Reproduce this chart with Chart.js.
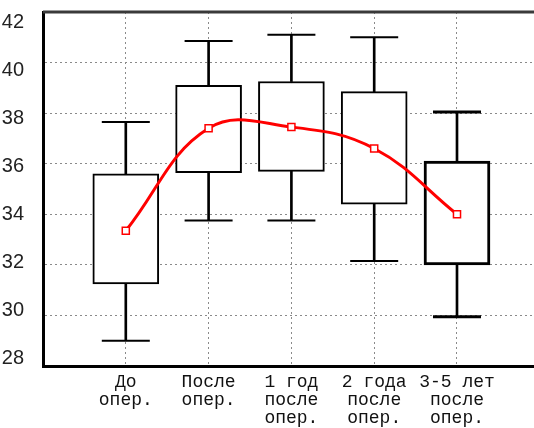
<!DOCTYPE html>
<html>
<head>
<meta charset="utf-8">
<script src="https://cdn.jsdelivr.net/npm/chart.js@4/dist/chart.umd.min.js"></script>
<style>
  body { margin: 0; background: #fff; }
  #wrap { width: 534px; height: 428px; }
</style>
</head>
<body>
<div id="wrap"><canvas id="myChart"></canvas></div>
<script>
/******* data ******************************/
const categories = [["До", "опер."], ["После", "опер."], ["1 год", "после", "опер."], ["2 года", "после", "опер."], ["3-5 лет", "после", "опер."]];
const whiskerMin = [29.0, 33.75, 33.75, 32.15, 29.95];
const boxLow     = [31.25, 35.65, 35.7, 34.4, 32.0];
const boxHigh    = [35.6, 39.1, 39.25, 38.85, 36.1];
const whiskerMax = [37.65, 40.85, 41.1, 41.0, 38.05];
const means      = [33.35, 37.4, 37.45, 36.6, 34.0];
const yTicks     = [28, 30, 32, 34, 36, 38, 40, 42];
const boxLine    = [2, 2, 2, 2, 3]; // last box is drawn heavier

const pos = categories.map((c, i) => i + 1);
const gridColor = '#8a8a8a';

/******** datasets *********/
const boxes = pos.map((x, i) => ({x, y: [boxLow[i], boxHigh[i]]}));
const upperStems = pos.map((x, i) => ({x, y: [boxHigh[i], whiskerMax[i]]}));
const lowerStems = pos.map((x, i) => ({x, y: [whiskerMin[i], boxLow[i]]}));
const caps = pos.flatMap((x, i) => [{x, y: whiskerMin[i]}, {x, y: whiskerMax[i]}]);
const meanPoints = pos.map((x, i) => ({x, y: means[i]}));

// top frame line (the chart has no right frame)
const topFrame = {
    id: 'topFrame',
    beforeDatasetsDraw: chart => {
        const {ctx, chartArea} = chart;
        ctx.save();
        ctx.strokeStyle = '#3a3a3a';
        ctx.lineWidth = 3;
        ctx.beginPath();
        ctx.moveTo(chartArea.left, chartArea.top);
        ctx.lineTo(chartArea.right, chartArea.top);
        ctx.stroke();
        ctx.restore();
    }
};

const ctx = document.getElementById('myChart');
const myChart = new Chart(ctx, {
    type: 'bar',
    data: {
        datasets: [
            {
                type: 'line', data: meanPoints, order: 0, yAxisID: 'y',
                borderColor: '#ff0000', borderWidth: 3, tension: 0.4,
                pointStyle: 'rect', pointRadius: 5,
                pointBackgroundColor: '#ffffff', pointBorderColor: '#ff0000', pointBorderWidth: 1.5
            },
            {
                data: boxes, order: 1, yAxisID: 'y',
                backgroundColor: '#ffffff', borderColor: '#000000',
                borderWidth: c => boxLine[c.dataIndex], borderSkipped: false,
                barThickness: 66, grouped: false
            },
            {
                type: 'line', data: caps, order: 2, yAxisID: 'y', showLine: false,
                pointStyle: 'line', pointRadius: 24,
                pointBorderColor: '#000000',
                pointBorderWidth: c => boxLine[Math.floor(c.dataIndex / 2)]
            },
            {
                data: upperStems, order: 3, yAxisID: 'y', backgroundColor: '#000000',
                borderWidth: 0, barThickness: 2, grouped: false
            },
            {
                data: lowerStems, order: 3, yAxisID: 'y', backgroundColor: '#000000',
                borderWidth: 0, barThickness: 2, grouped: false
            }
        ]
    },
    options: {
        responsive: true,
        maintainAspectRatio: false,
        animation: false,
        events: [],
        layout: { autoPadding: false, padding: { top: 12, right: 0, bottom: 0, left: 0 } },
        plugins: { legend: { display: false }, tooltip: { enabled: false } },
        scales: {
            x: {
                type: 'linear', min: 0, max: 5.93, offset: false,
                afterBuildTicks: s => { s.ticks = pos.map(v => ({value: v})); },
                afterFit: s => { s.height = 62; s.paddingLeft = 0; s.paddingRight = 0; },
                ticks: {
                    autoSkip: false, maxRotation: 0, padding: 7,
                    color: '#111',
                    font: { family: '"Liberation Mono", "Courier New", monospace', size: 18, lineHeight: 1.0 },
                    callback: v => categories[v - 1] || ''
                },
                grid: { color: gridColor, lineWidth: 1, drawTicks: false, offset: false },
                border: { color: '#000', width: 3, dash: [2, 3] }
            },
            // value axis: gridlines and the left axis line
            y: {
                position: 'left', weight: 0,
                min: 28, max: 42,
                afterBuildTicks: s => { s.ticks = yTicks.map(v => ({value: v})); },
                afterFit: s => { s.width = 0; s.paddingTop = 0; s.paddingBottom = 0; },
                ticks: { display: false },
                grid: {
                    color: c => (c.tick && (c.tick.value === 28 || c.tick.value === 42)) ? 'rgba(0,0,0,0)' : gridColor,
                    lineWidth: 1, drawTicks: false
                },
                border: { color: '#000', width: 3, dash: [2, 3] }
            },
            // tick labels: in the original they sit on a slightly tighter spacing than the grid
            yLabels: {
                position: 'left', weight: 1,
                min: 27.67, max: 42.42,
                afterBuildTicks: s => { s.ticks = yTicks.map(v => ({value: v})); },
                afterFit: s => { s.width = 43; s.paddingTop = 0; s.paddingBottom = 0; },
                ticks: {
                    padding: 11, color: '#222', autoSkip: false,
                    font: { family: '"Liberation Sans", Arial, sans-serif', size: 20 }
                },
                grid: { display: false },
                border: { display: false }
            }
        }
    },
    plugins: [topFrame]
});
</script>
</body>
</html>
